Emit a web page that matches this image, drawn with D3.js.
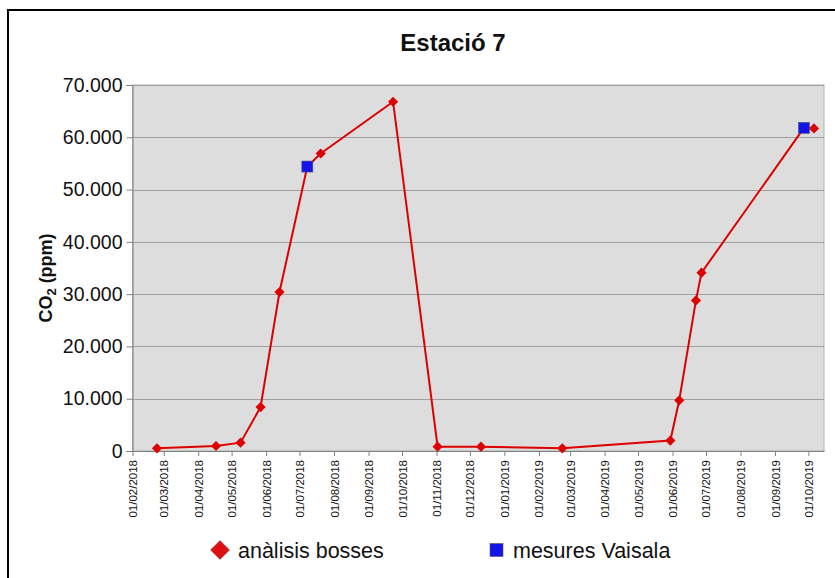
<!DOCTYPE html>
<html>
<head>
<meta charset="utf-8">
<script src="https://cdn.jsdelivr.net/npm/d3@7"></script>
<style>
  html, body { margin: 0; padding: 0; background: #fff; }
  svg { display: block; font-family: "Liberation Sans", Arial, sans-serif; }
</style>
</head>
<body>
<svg id="chart" width="835" height="578"></svg>
<script>
// ---- data ----
const bossesDates = ["2018-02-23","2018-04-17","2018-05-09","2018-05-27","2018-06-13","2018-07-20","2018-09-23","2018-11-02","2018-12-11","2019-02-22","2019-05-30","2019-06-07","2019-06-22","2019-06-27","2019-10-06"];
const bossesValues = [510, 960, 1600, 8400, 30400, 56900, 66800, 830, 830, 510, 2000, 9700, 28800, 34100, 61700];
const vaisalaDates = ["2018-07-08","2019-09-27"];
const vaisalaValues = [54400, 61800];
const yTicks = [0, 10000, 20000, 30000, 40000, 50000, 60000, 70000];
const seriesNames = ["anàlisis bosses", "mesures Vaisala"];
const title = "Estació 7";

// ---- setup ----
const parse = d3.timeParse("%Y-%m-%d");
const bosses = bossesDates.map((d, i) => ({date: parse(d), value: bossesValues[i], type: "b"}));
const vaisala = vaisalaDates.map((d, i) => ({date: parse(d), value: vaisalaValues[i], type: "v"}));
const all = bosses.concat(vaisala).sort((a, b) => a.date - b.date);

const svg = d3.select("#chart");
const L = 132.5, R = 824, T = 85, B = 451;

const x = d3.scaleTime().domain([new Date(2018, 1, 1), new Date(2019, 9, 15)]).range([L, R]);
const y = d3.scaleLinear().domain([0, 70000]).range([B, T]);

const red = "#dd0000", blue = "#1414e6";

// outer frame
svg.append("rect").attr("x", 8).attr("y", 10).attr("width", 840).attr("height", 590)
  .attr("fill", "none").attr("stroke", "#000").attr("stroke-width", 2);

// plot background
svg.append("rect").attr("x", L).attr("y", T).attr("width", R - L).attr("height", B - T)
  .attr("fill", "#dddddd").attr("stroke", "#b0b0b0").attr("stroke-width", 1);

// gridlines
svg.append("g").selectAll("line").data(yTicks.filter(d => d > 0)).join("line")
  .attr("x1", L).attr("x2", R).attr("y1", d => Math.round(y(d)) + 0.5).attr("y2", d => Math.round(y(d)) + 0.5)
  .attr("stroke", "#a0a0a0").attr("stroke-width", 1);

// y axis
const fmt = d => d === 0 ? "0" : d3.format(",")(d).replace(/,/g, ".");
const yAxis = svg.append("g").attr("transform", `translate(${L},0)`)
  .call(d3.axisLeft(y).tickValues(yTicks).tickFormat(fmt).tickSize(6).tickPadding(4));
yAxis.select(".domain").attr("stroke", "#808080");
yAxis.selectAll(".tick line").attr("stroke", "#808080");
yAxis.selectAll("text").attr("font-size", 19.5).attr("fill", "#111")
  .attr("font-family", "'Liberation Sans', Arial, sans-serif");

// x axis
const months = d3.timeMonth.range(new Date(2018, 1, 1), new Date(2019, 9, 2));
const xAxis = svg.append("g").attr("transform", `translate(0,${B})`)
  .call(d3.axisBottom(x).tickValues(months).tickFormat(d3.timeFormat("%d/%m/%Y")).tickSize(5).tickSizeOuter(0));
xAxis.select(".domain").attr("stroke", "#808080");
xAxis.selectAll(".tick line").attr("stroke", "#808080");
xAxis.selectAll("text")
  .attr("font-size", 11.5).attr("fill", "#111")
  .attr("font-family", "'Liberation Sans', Arial, sans-serif")
  .attr("text-anchor", "end")
  .attr("transform", "rotate(-90)")
  .attr("x", -9).attr("y", 0).attr("dy", "0.35em");

// line
svg.append("path").datum(all)
  .attr("d", d3.line().x(d => x(d.date)).y(d => y(d.value)))
  .attr("fill", "none").attr("stroke", red).attr("stroke-width", 2);

// diamonds
const diamond = d3.symbol().type(d3.symbolSquare).size(52);
svg.append("g").selectAll("path").data(bosses).join("path")
  .attr("d", diamond)
  .attr("transform", d => `translate(${x(d.date)},${y(d.value)}) rotate(45)`)
  .attr("fill", red);

// squares
svg.append("g").selectAll("rect").data(vaisala).join("rect")
  .attr("x", d => x(d.date) - 5.5).attr("y", d => y(d.value) - 5.5)
  .attr("width", 11).attr("height", 11)
  .attr("fill", blue).attr("stroke", "#555577").attr("stroke-width", 0.6);

// title
svg.append("text").attr("x", 453).attr("y", 51).attr("text-anchor", "middle")
  .attr("font-size", 24).attr("font-weight", "bold").attr("fill", "#111").text(title);

// y label
const yl = svg.append("text").attr("transform", "translate(52,278) rotate(-90)")
  .attr("text-anchor", "middle").attr("font-size", 18).attr("font-weight", "bold").attr("fill", "#111");
yl.append("tspan").text("CO");
yl.append("tspan").attr("font-size", 13).attr("dy", 4).text("2");
yl.append("tspan").attr("dy", -4).text(" (ppm)");

// legend
svg.append("path").attr("d", d3.symbol().type(d3.symbolSquare).size(180))
  .attr("transform", "translate(220,550) rotate(45)").attr("fill", "#dd1111")
  .attr("stroke", "#884444").attr("stroke-width", 0.5);
svg.append("text").attr("x", 238).attr("y", 557.5).attr("font-size", 21.5).attr("fill", "#111").text(seriesNames[0]);
svg.append("rect").attr("x", 490).attr("y", 543.5).attr("width", 13).attr("height", 13)
  .attr("fill", blue).attr("stroke", "#555577").attr("stroke-width", 0.6);
svg.append("text").attr("x", 513).attr("y", 557.5).attr("font-size", 21.5).attr("fill", "#111").text(seriesNames[1]);
</script>
</body>
</html>
